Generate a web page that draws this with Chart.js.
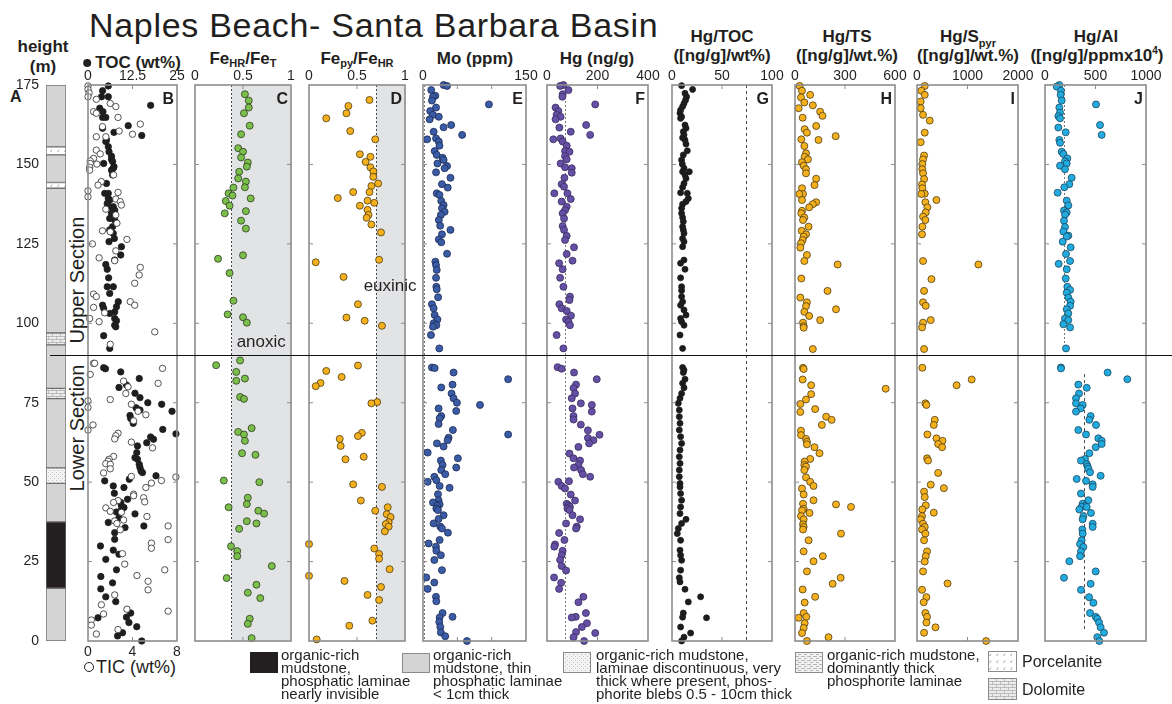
<!DOCTYPE html>
<html>
<head>
<meta charset="utf-8">
<title>Naples Beach- Santa Barbara Basin</title>
<script src="https://cdn.jsdelivr.net/npm/chart.js@4.4.1/dist/chart.umd.min.js"></script>
<style>
  html, body { margin:0; padding:0; background:#fff; }
  #page { position:relative; width:1172px; height:704px; overflow:hidden;
          font-family:"Liberation Sans", Arial, Helvetica, sans-serif; color:#231f20; }
  #page canvas { position:absolute; top:0; }
  .txt { position:absolute; white-space:nowrap; }
  .hd { font-weight:bold; font-size:17px; line-height:17px; transform:translateX(-50%); }
  .sub { font-size:11px; position:relative; top:3px; }
  .lg { font-size:15px; line-height:13px; }
</style>
</head>
<body>
<div id="page">
  <!-- titel en kolomkoppen -->
  <div class="txt" style="left:89px;top:8px;font-size:34px;line-height:34px;letter-spacing:0.7px">Naples Beach- Santa Barbara Basin</div>
  <div class="txt hd" style="left:43px;top:38px">height</div>
  <div class="txt hd" style="left:43px;top:58px">(m)</div>
  <div class="txt" style="left:10px;top:89px;font-weight:bold;font-size:16px;line-height:16px">A</div>
  <div class="txt hd" style="left:132px;top:54px"><span style="display:inline-block;width:8px;height:8px;border-radius:50%;background:#231f20;margin-right:4px;vertical-align:1px"></span>TOC (wt%)</div>
  <div class="txt hd" style="left:243px;top:50px">Fe<span class="sub">HR</span>/Fe<span class="sub">T</span></div>
  <div class="txt hd" style="left:357px;top:50px">Fe<span class="sub">py</span>/Fe<span class="sub">HR</span></div>
  <div class="txt hd" style="left:475px;top:50px">Mo (ppm)</div>
  <div class="txt hd" style="left:597px;top:50px">Hg (ng/g)</div>
  <div class="txt hd" style="left:722px;top:28px">Hg/TOC</div>
  <div class="txt hd" style="left:722px;top:47px">([ng/g]/wt%)</div>
  <div class="txt hd" style="left:847px;top:28px">Hg/TS</div>
  <div class="txt hd" style="left:847px;top:47px">([ng/g]/wt.%)</div>
  <div class="txt hd" style="left:968px;top:28px">Hg/S<span class="sub" style="top:5px">pyr</span></div>
  <div class="txt hd" style="left:968px;top:47px">([ng/g]/wt.%)</div>
  <div class="txt hd" style="left:1096px;top:28px">Hg/Al</div>
  <div class="txt hd" style="left:1097px;top:47px">([ng/g]/ppmx10<span style="font-size:10px;position:relative;top:-7px">4</span>)</div>
  <div class="txt" style="left:77px;top:280px;font-size:20px;line-height:20px;transform:translate(-50%,-50%) rotate(-90deg)">Upper Section</div>
  <div class="txt" style="left:77px;top:428px;font-size:20px;line-height:20px;transform:translate(-50%,-50%) rotate(-90deg)">Lower Section</div>
  <div class="txt" style="left:84px;top:658px;font-size:18px;line-height:18px"><span style="display:inline-block;width:8px;height:8px;border-radius:50%;border:1.2px solid #231f20;margin-right:2px;vertical-align:1px"></span>TIC (wt%)</div>
</div>
<script>
// algemene instellingen
Chart.defaults.font.family = '"Liberation Sans", Arial, Helvetica, sans-serif';
Chart.defaults.color = '#231f20';

var PLOT_TOP = 85, PLOT_BOTTOM = 641, PAGE_H = 704, PAD = 24;
var SECTION_BOUNDARY = 90;   // grens Upper/Lower Section (m)

// lithologie kolom (m)
var unitBase = [0, 16.6, 37.5, 49.6, 54.5, 76.3, 79.5, 93.2, 97, 142.5, 144.3, 153, 155.5];
var unitTop  = [16.6, 37.5, 49.6, 54.5, 76.3, 79.5, 93.2, 97, 142.5, 144.3, 153, 155.5, 175];
var unitKind = ['gray', 'black', 'gray', 'disc', 'gray', 'dolo', 'gray', 'dolo', 'gray', 'porc', 'gray', 'porc', 'gray'];

// meetpunten: [hoogte (m), waarde]
var tocPts = [[174.7,5.7],[173.2,4.1],[171.3,3.8],[171.3,5.7],[168.6,17.6],[167.7,3.3],[166.6,4.2],[164.8,4.1],[164.8,5.0],[162.2,11.3],[161.4,4.1],[160.1,7.3],[159.1,15.1],[157.7,5.2],[157.2,5.0],[155.6,5.7],[154.0,5.9],[152.6,6.6],[151.6,6.6],[150.9,6.9],[150.3,4.4],[149.3,7.3],[148.8,7.1],[148.2,6.6],[146.7,6.9],[144.0,5.2],[140.9,4.7],[140.9,5.7],[139.3,5.7],[138.8,6.1],[137.7,5.4],[136.7,7.1],[136.5,6.6],[135.6,7.5],[134.6,6.6],[133.0,6.1],[132.5,7.5],[130.4,6.9],[129.4,6.1],[128.3,7.1],[126.7,7.4],[125.7,5.9],[124.1,9.4],[121.5,9.2],[119.9,7.5],[118.5,5.0],[117.0,5.4],[114.3,5.8],[111.5,5.4],[111.5,7.1],[109.4,6.1],[106.8,8.5],[105.2,8.0],[105.7,4.1],[104.7,4.4],[103.6,7.5],[103.1,6.1],[101.5,7.5],[100.8,8.0],[99.4,7.5],[98.9,7.8],[96.1,4.4],[92.1,6.1],
  [86.0,4.4],[85.7,4.9],[84.7,9.2],[82.6,14.4],[80.6,10.8],[79.8,8.7],[78.0,13.2],[76.6,14.6],[75.0,16.8],[74.5,20.7],[73.4,13.5],[72.7,14.6],[72.3,23.6],[71.0,11.8],[70.0,12.0],[68.5,12.7],[66.6,21.0],[65.2,24.7],[64.2,17.6],[63.5,18.4],[62.4,16.5],[61.4,13.9],[59.3,13.7],[57.7,13.2],[57.2,13.9],[55.6,14.4],[54.6,14.6],[53.5,14.9],[53.0,15.3],[52.0,19.1],[50.9,11.6],[50.4,4.7],[48.8,7.1],[48.3,10.1],[46.5,7.4],[44.6,11.1],[43.6,9.2],[42.6,9.4],[42.0,10.1],[41.2,9.4],[40.6,8.0],[40.0,13.2],[38.8,8.7],[37.3,5.7],[36.2,15.7],[35.7,10.4],[34.1,7.5],[32.0,7.5],[29.9,3.5],[28.6,7.1],[27.3,8.7],[25.7,5.0],[22.4,8.0],[20.3,3.6],[18.3,6.9],[16.4,3.6],[13.9,5.0],[12.4,7.8],[8.8,12.0],[7.5,10.8],[7.3,2.8],[5.8,11.5],[4.5,13.7],[2.6,9.7],[1.6,8.3],[0,15.1]];

var ticPts = [[174.7,0],[173.6,0],[172.5,0.1],[171.3,0],[170.5,0.75],[169.2,2.0],[168.2,2.5],[166.6,0.5],[166.1,0.75],[164.8,2.7],[162.7,4.7],[161.9,1.3],[160.5,2.8],[159.5,4.0],[158.7,0.75],[158.7,1.6],[154.5,0.75],[153.3,1.1],[151.9,0.5],[151.1,0.2],[150.3,0.2],[150.1,0.8],[149.1,0.15],[148.2,0.15],[146.7,2.3],[144.6,1.2],[143.5,0.9],[141.7,0],[139.8,0],[141.2,2.7],[139.1,2.5],[138.3,2.9],[137.2,3.0],[135.9,1.6],[134.1,2.5],[131.5,2.6],[129.1,1.3],[128.8,2.0],[126.4,3.5],[125.0,0.4],[122.8,2.5],[120.6,1.0],[119.7,2.4],[117.6,4.7],[115.2,4.6],[112.6,4.2],[109.2,0.5],[108.4,0.75],[106.8,3.8],[105.7,4.2],[105.0,0.5],[103.3,1.5],[101.5,0.15],[100.5,1.0],[97.3,6.0],[93.4,2.0],
  [87.4,0.5],[87.4,0.6],[85.8,6.7],[83.9,0.2],[81.8,3.2],[81.1,6.3],[80.0,3.6],[77.9,3.4],[76.0,2.0],[75.6,0],[74.5,3.9],[73.5,0],[72.3,4.5],[71.2,5.2],[69.3,4.1],[68.0,0.45],[66.4,0],[65.4,2.7],[64.6,2.5],[63.6,2.4],[62.6,3.9],[60.8,5.8],[58.1,2.3],[57.2,1.9],[56.6,1.8],[55.8,1.6],[55.6,2.0],[54.2,2.0],[52.9,1.4],[51.8,3.9],[51.6,7.9],[50.5,6.6],[49.7,5.7],[48.3,5.2],[46.2,4.1],[45.7,4.1],[45.1,5.0],[44.2,2.7],[43.8,5.1],[43.6,2.3],[41.9,1.6],[40.8,2.0],[40.5,3.0],[39.2,5.3],[38.1,3.2],[37.8,2.4],[37.0,2.6],[36.2,7.2],[35.0,2.9],[31.9,7.2],[30.8,5.7],[29.2,5.7],[27.5,3.1],[24.2,3.3],[22.4,6.9],[20.6,4.4],[18.8,5.4],[16.1,5.4],[14.5,2.4],[11.4,1.2],[10.0,3.5],[9.4,7.2],[8.5,1.4],[6.6,0.3],[5.0,0.3],[3.6,2.7],[2.2,0.75]];

var feHrPts = [[172.1,0.52],[170.1,0.56],[167.9,0.56],[166.1,0.51],[162.2,0.57],[159.5,0.48],[155.1,0.45],[154.0,0.50],[152.2,0.48],[150.6,0.55],[149.3,0.54],[147.7,0.46],[145.6,0.45],[144.6,0.53],[142.8,0.52],[142.7,0.40],[140.9,0.35],[140.2,0.39],[139.3,0.58],[138.5,0.32],[137.0,0.36],[135.3,0.53],[134.6,0.31],[132.3,0.48],[129.8,0.53],[121.4,0.50],[120.3,0.24],[115.8,0.36],[107.1,0.40],[102.8,0.34],[101.9,0.50],[100.2,0.54],
  [88.3,0.47],[86.8,0.22],[84.7,0.43],[82.6,0.52],[81.9,0.43],[76.8,0.47],[76.2,0.51],[67.0,0.59],[65.8,0.45],[65.0,0.51],[63.0,0.52],[59.1,0.49],[58.6,0.63],[50.5,0.30],[50.0,0.67],[45.1,0.55],[43.1,0.54],[42.1,0.35],[41.0,0.66],[40.1,0.72],[37.7,0.54],[37.0,0.64],[35.3,0.46],[29.8,0.375],[28.3,0.44],[26.7,0.44],[23.6,0.80],[19.8,0.33],[17.7,0.64],[15.2,0.55],[13.5,0.68],[7.0,0.57],[5.4,0.55],[0.9,0.59]];

var fePyPts = [[170.3,0.63],[168.4,0.41],[166.1,0.39],[164.5,0.18],[160.5,0.43],[157.9,0.69],[153.2,0.53],[152.4,0.64],[150.8,0.59],[149.1,0.64],[147.8,0.67],[146.1,0.67],[144.0,0.72],[143.2,0.65],[141.3,0.46],[141.3,0.63],[139.4,0.30],[138.6,0.61],[137.9,0.68],[137.0,0.53],[135.7,0.61],[134.1,0.62],[133.2,0.60],[131.1,0.65],[128.6,0.75],[120.0,0.73],[119.2,0.07],[114.6,0.36],[106.0,0.51],[101.8,0.39],[100.8,0.58],[99.2,0.76],
  [86.7,0.51],[85.0,0.18],[83.1,0.34],[81.2,0.12],[80.2,0.07],[75.2,0.71],[74.8,0.65],[65.5,0.55],[64.5,0.51],[63.6,0.32],[61.4,0.33],[58.0,0.57],[57.2,0.38],[49.3,0.46],[48.5,0.76],[44.2,0.54],[42.1,0.82],[41.0,0.69],[39.9,0.81],[39.0,0.85],[37.4,0.83],[36.8,0.80],[36.0,0.83],[34.5,0.79],[30.5,0],[29.1,0.68],[27.4,0.73],[25.9,0.73],[22.6,0.84],[20.5,0],[18.9,0.37],[17.0,0.75],[14.5,0.61],[12.9,0.73],[6.4,0.66],[4.8,0.42],[0.5,0.08]];

var moPts = [[175,30],[174.7,35],[173.4,12],[171.6,18],[171.3,14.5],[170.1,13],[168.9,96],[167.9,19],[166.8,10.5],[165.6,14.5],[165.0,23],[164.2,9.7],[162.4,41],[161.7,30],[160.3,15.5],[159.3,57],[158.2,19],[157.9,6],[157.2,23],[155.9,24],[154.2,17],[153.0,20],[152.1,28.5],[151.4,30],[150.3,21],[149.5,35],[148.8,31.5],[147.5,19],[145.8,40],[143.8,27.6],[142.7,36],[140.9,20],[140.4,24],[138.5,26.6],[137.2,30],[136.2,27.6],[135.1,31.5],[134.1,26],[132.5,23],[130.7,25],[129.4,40],[128.0,27.6],[126.4,23],[125.5,26.6],[121.9,35],[119.4,18],[118.3,19],[116.8,20],[114.3,19],[111.5,19.4],[110.7,20],[108.2,22],[106.0,13],[104.7,15.5],[102.6,17],[101.2,21],[100.0,15.5],[99.4,19.4],[98.9,14.5],[96.3,11.6],[92.1,23.7],
  [86.1,13],[85.9,17],[84.5,44.5],[82.4,124],[80.7,43],[79.8,26.6],[77.9,41.6],[76.4,44.5],[75.0,49.4],[74.3,83],[73.2,22.7],[72.4,48.4],[70.8,26.6],[70.1,24.2],[68.3,22.7],[66.4,43.5],[65.0,124],[64.0,37.3],[63.2,35.8],[62.2,20.3],[61.2,30],[59.3,6.8],[57.5,50.8],[56.8,26],[55.4,28.5],[54.6,48.4],[53.8,26.6],[52.5,32.4],[51.7,16.5],[50.6,19.4],[50.1,6.8],[48.8,24.2],[48.2,38.7],[46.2,21.8],[44.3,22.7],[43.6,14.5],[43.0,24.2],[42.6,20.3],[41.7,19.4],[41.2,21.8],[39.6,30],[38.4,22.7],[37.0,15.5],[36.0,25.2],[35.4,27.6],[34.1,36.3],[31.8,24.2],[30.7,8.2],[29.7,18.9],[28.4,19.4],[27.0,26],[25.5,16.5],[22.3,27.6],[20.0,4.8],[18.4,16.5],[16.4,6.8],[13.9,18.9],[12.5,19.4],[8.8,28.5],[7.6,43],[7.4,24.2],[6.0,23.7],[4.4,25.2],[2.7,26],[1.5,32.4],[0,64]];

var hgPts = [[175,65],[174.7,52],[173.4,85],[172.1,62],[171.3,61],[168.9,191],[167.9,34],[166.8,45],[165.6,38],[165.0,54],[164.2,34],[162.4,155],[161.6,49],[160.3,94],[159.3,171],[158.2,54],[157.9,25],[157.2,62],[155.9,78],[154.2,71.5],[154.0,89],[152.6,71.5],[151.6,78],[150.3,54],[149.1,71.5],[148.8,98],[147.4,98],[145.8,69],[143.8,58],[143.0,67.5],[140.9,29],[140.9,81],[139.1,94],[138.3,58],[136.7,78],[135.6,71.5],[134.6,62],[133.0,67.5],[130.6,62],[129.4,67.5],[127.5,78],[126.2,71.5],[123.9,107],[121.8,78],[119.7,101],[118.9,48],[117.0,62],[114.3,52],[111.5,65],[108.4,91],[107.3,89],[106.0,49],[104.7,58],[103.9,78],[102.4,95],[101.2,75.5],[100.5,85],[99.4,91],[96.3,38],[92.1,65],
  [86.2,42],[85.7,58],[84.5,107],[82.4,197],[80.7,115],[79.6,105],[77.9,111],[76.4,98],[74.8,134],[74.3,177.5],[73.2,101],[72.2,177.5],[70.8,105],[69.7,105],[68.1,134],[66.3,162],[64.9,208],[63.9,162],[63.2,184],[62.2,167],[61.1,124.5],[59.0,89],[57.5,105],[56.8,131],[55.4,124.5],[54.6,107],[53.8,135],[52.5,142],[51.7,171],[50.3,87],[50.1,45],[48.8,58],[48.0,71.5],[46.1,94],[44.2,111],[43.2,78],[42.7,85],[42.2,91],[41.7,81],[41.2,89],[39.6,101],[38.3,131],[37.0,75.5],[36.0,118],[35.4,115],[34.0,48],[31.8,69],[30.4,32],[29.7,29],[28.4,62],[27.0,58],[25.5,52],[23.6,58],[22.2,75.5],[20.0,28],[18.3,56],[16.4,48],[13.9,144],[12.2,124.5],[8.8,154],[7.6,114],[7.4,98],[5.6,158],[4.4,138],[2.8,115],[2.5,191],[1.2,105],[0,147]];

var hgTocPts = [[174.8,9.6],[173.6,20.6],[172.4,13],[171.3,14.6],[170.3,13.6],[169.2,12],[168.2,10.6],[167.1,8.6],[166.1,8],[165.0,9.6],[164.5,8.6],[162.4,13],[161.4,14],[160.3,11.3],[159.3,12],[158.4,10.6],[157.7,13],[156.4,14],[154.3,15.3],[153.0,11.3],[151.4,9.6],[150.1,10.3],[148.8,12],[147.7,10.6],[147.7,17.3],[146.7,13],[145.6,14],[144.0,12],[142.8,10.6],[141.1,8.6],[140.9,15.3],[139.3,16.3],[138.3,14],[137.5,10.6],[136.2,9.6],[134.6,9.6],[133.3,10.6],[132.0,11.3],[130.4,10.6],[129.4,11.3],[128.3,12],[126.7,10.6],[125.7,12],[124.1,10.6],[119.9,12],[118.9,8.6],[117.0,13],[114.3,8.6],[111.5,9.6],[110.3,9.6],[108.4,9.6],[106.8,10.6],[105.7,8.6],[104.2,12],[102.6,14],[101.5,8.6],[100.5,9.6],[99.4,12],[96.3,8],[92.1,10.6],
  [86.1,10.6],[85.3,12],[84.5,11.3],[82.4,13],[81.1,10.6],[79.7,12],[77.9,9.6],[76.4,8],[74.8,6.3],[72.7,7.3],[70.6,7.3],[68.5,8],[66.4,7.3],[64.3,8.6],[62.2,9.6],[60.1,8],[58.0,7.3],[55.9,8],[53.8,7.3],[51.7,7.3],[49.6,8],[48.5,8],[46.4,8.6],[44.3,9.6],[42.2,8.6],[40.1,8],[38.3,14],[37.0,9.6],[35.4,6.3],[33.8,5.3],[31.7,8.6],[28.6,8],[27.0,8.6],[25.4,9.6],[22.3,8.6],[19.9,7.3],[18.6,8],[16.3,13],[13.9,28.6],[12.3,16.3],[8.8,11.3],[7.5,10.6],[7.3,34.5],[4.4,8.6],[2.5,18.6],[1.2,12],[0,9.6]];

var hgTsPts = [[174.7,28],[173.2,42],[171.9,91],[171.1,36],[169.5,56],[168.6,107],[167.7,22],[166.6,151],[165.3,165],[164.7,46],[162.1,127],[161.1,58],[160.0,71.5],[158.9,244],[157.9,38],[157.7,141],[155.8,56],[153.5,66],[152.4,58],[151.6,77.5],[150.7,42],[149.6,52],[148.5,66],[147.2,66],[145.5,127],[143.5,117],[142.5,42],[140.7,48],[140.7,26],[138.8,42],[138.1,127],[137.5,107],[136.5,85],[135.4,42],[134.6,38],[133.3,56],[132.5,48],[130.4,81.5],[129.1,40],[128.0,66],[127.3,52],[126.2,46],[125.2,36],[123.8,32],[121.5,71.5],[119.6,56],[118.5,256],[114.1,38],[110.2,195],[108.1,32],[106.6,71.5],[105.4,66],[104.4,246],[103.6,56],[102.3,85],[101.0,151],[100.2,48],[99.1,52],[98.6,52],[91.9,107],
  [86.0,48],[85.6,52],[82.3,46],[80.5,97],[79.4,544],[77.7,97],[76.0,66],[74.6,32],[73.0,121],[72.1,32],[70.6,187],[69.6,220],[68.0,161],[66.2,36],[64.8,36],[63.6,66],[62.7,71.5],[61.9,71.5],[61.0,117],[59.1,147],[57.3,91],[56.5,58],[55.4,56],[54.9,66],[53.8,56],[51.5,66],[50.1,91],[48.8,111],[48.0,42],[46.1,52],[44.3,111],[43.2,48],[43.0,246],[42.2,336],[41.6,52],[41.1,42],[40.3,87],[39.3,36],[38.3,52],[36.7,48],[35.9,52],[35.1,48],[33.8,276],[31.7,81.5],[28.2,52],[26.7,167],[25.1,111],[21.9,71.5],[19.9,274],[18.0,226],[16.2,46],[13.9,121],[12.1,58],[8.8,52],[7.6,68],[7.3,22],[5.6,58],[4.1,52],[2.5,42],[1.2,201],[0,71.5]];

var hgSpyrPts = [[174.7,153],[173.2,86],[171.9,153],[169.8,73],[167.7,73],[165.6,120],[163.8,252],[160.0,153],[157.0,73],[152.8,140],[151.6,120],[150.1,106],[148.5,106],[147.2,120],[145.4,140],[143.7,100],[142.5,106],[140.8,153],[140.7,86],[138.8,385],[138.1,166],[136.5,206],[134.9,173],[133.6,120],[132.5,166],[130.4,106],[128.0,100],[119.6,120],[118.5,1216],[113.9,286],[110.2,140],[106.6,120],[105.5,173],[101.0,272],[100.2,120],[98.7,100],[91.9,140],
  [86.0,106],[82.3,1083],[80.5,784],[74.8,166],[74.3,186],[69.6,352],[68.0,332],[65.0,206],[63.8,385],[63.0,505],[62.0,419],[61.0,498],[57.5,199],[56.8,219],[52.9,419],[49.2,272],[48.1,532],[47.0,140],[45.3,153],[42.7,173],[41.4,106],[40.4,332],[39.3,100],[38.3,73],[36.9,120],[35.9,153],[35.1,100],[33.8,166],[31.7,140],[28.2,199],[26.7,173],[25.0,153],[21.9,120],[18.1,605],[16.1,100],[13.8,186],[12.2,133],[8.8,166],[7.6,199],[5.8,186],[4.3,366],[2.6,140],[0,1369]];

var hgAlPts = [[175,142],[174.5,116],[173.2,158],[171.9,155],[170.1,165],[168.9,505],[167.9,142],[166.3,149],[165.2,132],[164.5,149],[162.4,545],[161.6,132],[160.1,205],[159.3,561],[157.7,142],[156.8,149],[154.0,165],[153.3,182],[151.9,221],[151.0,198],[150.3,215],[149.6,149],[148.5,198],[145.8,264],[143.8,241],[142.8,191],[141.1,125],[138.6,215],[137.1,231],[135.5,188],[134.9,215],[134.2,198],[132.3,188],[130.3,198],[128.9,182],[127.6,231],[127.3,215],[125.7,175],[123.9,254],[121.8,208],[119.6,248],[118.7,135],[117.0,215],[114.1,205],[111.5,221],[110.5,248],[109.6,215],[108.1,231],[106.8,254],[105.5,248],[104.4,215],[103.1,231],[101.5,198],[101.0,231],[99.7,182],[98.7,248],[92.1,208],
  [86.1,158],[85.8,158],[84.5,620],[82.4,815],[80.7,330],[79.7,413],[77.9,337],[76.4,307],[74.8,307],[74.3,373],[73.2,353],[72.2,307],[70.8,452],[69.6,439],[68.0,505],[66.4,330],[65.0,406],[63.8,528],[63.0,561],[62.0,561],[61.0,502],[59.1,439],[57.3,396],[56.8,356],[55.7,413],[54.9,422],[54.2,429],[53.1,446],[52.0,551],[51.0,314],[50.4,406],[49.3,472],[48.5,472],[46.4,356],[44.3,429],[43.2,373],[42.5,396],[42.2,363],[42.2,413],[41.4,340],[40.3,455],[39.3,380],[38.3,373],[36.9,472],[35.9,472],[35.1,370],[33.8,373],[31.7,363],[30.5,347],[29.6,380],[28.2,356],[26.7,347],[25.1,241],[21.9,502],[19.9,188],[18.0,452],[16.1,356],[13.8,436],[12.0,479],[8.8,446],[7.6,502],[7.0,518],[5.8,535],[4.3,551],[2.6,584],[1.2,518],[0,538]];

var page = document.getElementById('page');

function addCanvas(left, width) {
  var c = document.createElement('canvas');
  c.width = width; c.height = PAGE_H;
  c.style.left = left + 'px';
  c.style.width = width + 'px'; c.style.height = PAGE_H + 'px';
  page.appendChild(c);
  return c;
}

// arceringen voor de lithologie
function fillFor(ctx, kind) {
  if (kind === 'black') return '#231f20';
  if (kind === 'gray') return '#d4d4d4';
  var t = document.createElement('canvas'), g;
  if (kind === 'porc') {
    t.width = 7; t.height = 7; g = t.getContext('2d');
    g.fillStyle = '#ffffff'; g.fillRect(0, 0, 7, 7);
    g.strokeStyle = '#8f8f8f'; g.lineWidth = 0.8;
    g.beginPath(); g.moveTo(1.5, 5); g.lineTo(3, 2.5); g.stroke();
  } else if (kind === 'dolo') {
    t.width = 8; t.height = 6; g = t.getContext('2d');
    g.fillStyle = '#ececec'; g.fillRect(0, 0, 8, 6);
    g.strokeStyle = '#a8a8a8'; g.lineWidth = 0.7;
    g.beginPath();
    g.moveTo(0, 0.5); g.lineTo(8, 0.5); g.moveTo(0, 3.5); g.lineTo(8, 3.5);
    g.moveTo(0.5, 0.5); g.lineTo(0.5, 3.5); g.moveTo(4.5, 3.5); g.lineTo(4.5, 6);
    g.stroke();
  } else if (kind === 'disc') {
    t.width = 4; t.height = 4; g = t.getContext('2d');
    g.fillStyle = '#f3f3f3'; g.fillRect(0, 0, 4, 4);
    g.fillStyle = '#c2c2c2'; g.fillRect(0, 0, 1, 1); g.fillRect(2, 2, 1, 1);
  } else {
    t.width = 6; t.height = 4; g = t.getContext('2d');
    g.fillStyle = '#f2f2f2'; g.fillRect(0, 0, 6, 4);
    g.strokeStyle = '#9c9c9c'; g.lineWidth = 0.7;
    g.beginPath(); g.moveTo(0, 0.5); g.lineTo(4, 0.5); g.moveTo(3, 2.5); g.lineTo(6, 2.5); g.stroke();
  }
  return ctx.createPattern(t, 'repeat');
}

function sectionLine(fromX) {
  return {
    id: 'sectionLine',
    afterDatasetsDraw: function(chart) {
      var g = chart.ctx, y = Math.round(chart.scales.y.getPixelForValue(SECTION_BOUNDARY)) + 0.5;
      g.save();
      g.strokeStyle = '#111'; g.lineWidth = 1.2;
      g.beginPath(); g.moveTo(fromX, y); g.lineTo(chart.width, y); g.stroke();
      g.restore();
    }
  };
}

// kolom A
var colCanvas = addCanvas(0, 88);
var colCtx = colCanvas.getContext('2d');
new Chart(colCtx, {
  type: 'bar',
  data: {
    labels: ['column'],
    datasets: unitBase.map(function(b, i) {
      return {
        data: [[b, unitTop[i]]],
        backgroundColor: fillFor(colCtx, unitKind[i]),
        borderColor: '#707070', borderWidth: 1, borderSkipped: false,
        grouped: false, barPercentage: 1, categoryPercentage: 1
      };
    })
  },
  options: {
    responsive: false, animation: false, events: [], devicePixelRatio: 1,
    layout: { padding: { left: 0, right: 22, top: PLOT_TOP, bottom: PAGE_H - PLOT_BOTTOM } },
    scales: {
      x: { display: false },
      y: { min: 0, max: 175, ticks: { stepSize: 25, padding: 7, font: { size: 14 } },
           grid: { display: false, drawTicks: false }, border: { display: false },
           afterFit: function(s) { s.width = 46; } }
    },
    plugins: { legend: { display: false }, tooltip: { enabled: false } }
  },
  plugins: [sectionLine(50)]
});

// panelen B..J
function pointSet(pts, fill, edge, r, axis) {
  return {
    data: pts.map(function(p) { return { x: p[1], y: p[0] }; }),
    xAxisID: axis || 'x',
    pointRadius: r, pointBackgroundColor: fill, pointBorderColor: edge,
    pointBorderWidth: 0.8, clip: false
  };
}

var panels = [
  { letter: 'B', left: 88, right: 177, min: 0, max: 25, step: 12.5,
    bottom: { min: 0, max: 8, step: 4 },
    datasets: [pointSet(ticPts, '#ffffff', '#2a2a2a', 3.2, 'x2'), pointSet(tocPts, '#1e1e1e', '#1e1e1e', 3.2)] },
  { letter: 'C', left: 195, right: 291, min: 0, max: 1, step: 0.5, shadeFrom: 0.38,
    refs: [{ v: 0.38, from: 0, to: 175 }], note: { text: 'anoxic', x: 0.69, y: 94 },
    datasets: [pointSet(feHrPts, '#79bf4a', '#2f3b25', 3.5)] },
  { letter: 'D', left: 309, right: 405, min: 0, max: 1, step: 0.5, shadeFrom: 0.7,
    refs: [{ v: 0.7, from: 0, to: 175 }], note: { text: 'euxinic', x: 0.845, y: 111.7 },
    datasets: [pointSet(fePyPts, '#f5b11d', '#4d3b12', 3.5)] },
  { letter: 'E', left: 423, right: 526, min: 0, max: 150, step: 50, labels: [0, 150],
    refs: [{ v: 2, from: 0, to: 175, color: '#777' }],
    datasets: [pointSet(moPts, '#3a5ba6', '#1d2b52', 3.5)] },
  { letter: 'F', left: 547, right: 648, min: 0, max: 400, step: 200,
    refs: [{ v: 70, from: 0, to: 175, color: '#777' }],
    datasets: [pointSet(hgPts, '#6650a5', '#372c60', 3.5)] },
  { letter: 'G', left: 672, right: 772, min: 0, max: 100, step: 50,
    refs: [{ v: 74, from: 0, to: 175, dash: [3, 3] }],
    datasets: [pointSet(hgTocPts, '#1c1c1c', '#1c1c1c', 3.0)] },
  { letter: 'H', left: 795, right: 895, min: 0, max: 600, step: 300,
    datasets: [pointSet(hgTsPts, '#f5b11d', '#4d3b12', 3.5)] },
  { letter: 'I', left: 917, right: 1018, min: 0, max: 2000, step: 1000,
    datasets: [pointSet(hgSpyrPts, '#f5b11d', '#4d3b12', 3.5)] },
  { letter: 'J', left: 1045, right: 1146, min: 0, max: 1000, step: 500, padRight: 26,
    refs: [{ v: 185, from: 92, to: 175, color: '#777' }, { v: 389, from: 3, to: 84, dash: [3, 3] }],
    datasets: [pointSet(hgAlPts, '#22abdf', '#1b4760', 3.5)] }
];

function deco(p) {
  return {
    id: 'deco' + p.letter,
    beforeDatasetsDraw: function(chart) {
      var a = chart.chartArea, xs = chart.scales.x, ys = chart.scales.y, g = chart.ctx;
      g.save();
      if (p.shadeFrom != null) {
        var sx = xs.getPixelForValue(p.shadeFrom);
        g.fillStyle = '#e2e3e5';
        g.fillRect(sx, a.top, a.right - sx, a.bottom - a.top);
      }
      (p.refs || []).forEach(function(r) {
        var x = Math.round(xs.getPixelForValue(r.v)) + 0.5;
        g.beginPath();
        g.setLineDash(r.dash || [2, 2]);
        g.strokeStyle = r.color || '#4a4a4a'; g.lineWidth = 1;
        g.moveTo(x, ys.getPixelForValue(r.to)); g.lineTo(x, ys.getPixelForValue(r.from));
        g.stroke();
      });
      g.restore();
    },
    afterDatasetsDraw: function(chart) {
      var a = chart.chartArea, xs = chart.scales.x, ys = chart.scales.y, g = chart.ctx;
      var xb = chart.scales.x2 || xs;
      g.save();
      g.strokeStyle = '#8d8d8d'; g.lineWidth = 1.6;
      g.strokeRect(a.left, a.top, a.right - a.left, a.bottom - a.top);
      // korte tickjes naar binnen
      g.lineWidth = 1; g.strokeStyle = '#8d8d8d';
      g.beginPath();
      for (var v = 25; v < 175; v += 25) {
        var y = ys.getPixelForValue(v);
        g.moveTo(a.left, y); g.lineTo(a.left + 4, y);
        g.moveTo(a.right, y); g.lineTo(a.right - 4, y);
      }
      xs.ticks.forEach(function(t) {
        if (t.value <= xs.min || t.value >= xs.max) return;
        var x = xs.getPixelForValue(t.value);
        g.moveTo(x, a.top); g.lineTo(x, a.top + 4);
      });
      xb.ticks.forEach(function(t) {
        if (t.value <= xb.min || t.value >= xb.max) return;
        var x = xb.getPixelForValue(t.value);
        g.moveTo(x, a.bottom); g.lineTo(x, a.bottom - 4);
      });
      g.stroke();
      // paneelletter
      g.fillStyle = '#231f20';
      g.font = 'bold 16px "Liberation Sans", Arial, sans-serif';
      g.textAlign = 'right'; g.textBaseline = 'alphabetic';
      g.fillText(p.letter, a.right - 3, a.top + 19);
      if (p.note) {
        g.font = '17px "Liberation Sans", Arial, sans-serif';
        g.textAlign = 'center'; g.textBaseline = 'middle';
        g.fillText(p.note.text, xs.getPixelForValue(p.note.x), ys.getPixelForValue(p.note.y));
      }
      // grens Upper/Lower Section
      var ly = Math.round(ys.getPixelForValue(SECTION_BOUNDARY)) + 0.5;
      g.strokeStyle = '#111'; g.lineWidth = 1.2;
      g.beginPath(); g.moveTo(0, ly); g.lineTo(chart.width, ly); g.stroke();
      g.restore();
    }
  };
}

function makePanel(p) {
  var padR = p.padRight || PAD;
  var cv = addCanvas(p.left - PAD, p.right - p.left + PAD + padR);
  var labels = p.labels;
  var scales = {
    x: {
      type: 'linear', position: 'top', min: p.min, max: p.max,
      ticks: { stepSize: p.step, padding: 0, maxRotation: 0, autoSkip: false, font: { size: 14 },
               callback: function(v) { return (!labels || labels.indexOf(v) >= 0) ? String(v) : ''; } },
      grid: { display: false, drawTicks: false }, border: { display: false },
      afterFit: function(s) { s.height = PLOT_TOP; }
    },
    y: { type: 'linear', min: 0, max: 175, display: false }
  };
  var bottomPad = PAGE_H - PLOT_BOTTOM;
  if (p.bottom) {
    scales.x2 = {
      type: 'linear', position: 'bottom', min: p.bottom.min, max: p.bottom.max,
      ticks: { stepSize: p.bottom.step, padding: 3, maxRotation: 0, autoSkip: false, font: { size: 14 },
               callback: function(v) { return String(v); } },
      grid: { display: false, drawTicks: false }, border: { display: false },
      afterFit: function(s) { s.height = PAGE_H - PLOT_BOTTOM; }
    };
    bottomPad = 0;
  }
  new Chart(cv.getContext('2d'), {
    type: 'scatter',
    data: { datasets: p.datasets },
    options: {
      responsive: false, animation: false, events: [], devicePixelRatio: 1,
      layout: { padding: { left: PAD, right: padR, top: 0, bottom: bottomPad } },
      scales: scales,
      plugins: { legend: { display: false }, tooltip: { enabled: false } }
    },
    plugins: [deco(p)]
  });
}

panels.forEach(makePanel);

// legenda onderaan
var legendItems = [
  { kind: 'black', x: 250, y: 652, w: 28, h: 21, tx: 281, lines: ['organic-rich', 'mudstone,', 'phosphatic laminae', 'nearly invisible'] },
  { kind: 'gray', x: 402, y: 653, w: 28, h: 20, tx: 433, lines: ['organic-rich', 'mudstone, thin', 'phosphatic laminae', '< 1cm thick'] },
  { kind: 'disc', x: 563, y: 652, w: 28, h: 21, tx: 596, lines: ['organic-rich mudstone,', 'laminae discontinuous, very', 'thick where present, phos-', 'phorite blebs 0.5 - 10cm thick'] },
  { kind: 'phos', x: 795, y: 652, w: 28, h: 21, tx: 827, lines: ['organic-rich mudstone,', 'dominantly thick', 'phosphorite laminae'] },
  { kind: 'porc', x: 988, y: 651, w: 29, h: 21, tx: 1022, lines: ['Porcelanite'], base: 667 },
  { kind: 'dolo', x: 988, y: 678, w: 29, h: 22, tx: 1022, lines: ['Dolomite'], base: 695 }
];

legendItems.forEach(function(it) {
  var sw = document.createElement('canvas');
  sw.width = it.w; sw.height = it.h;
  sw.style.left = it.x + 'px'; sw.style.top = it.y + 'px';
  sw.style.width = it.w + 'px'; sw.style.height = it.h + 'px';
  page.appendChild(sw);
  var g = sw.getContext('2d');
  g.fillStyle = fillFor(g, it.kind);
  g.fillRect(0, 0, it.w, it.h);
  if (it.kind !== 'black') {
    g.strokeStyle = '#8a8a8a'; g.lineWidth = 1;
    g.strokeRect(0.5, 0.5, it.w - 1, it.h - 1);
  }
  var d = document.createElement('div');
  d.className = 'txt lg';
  d.style.left = it.tx + 'px';
  if (it.base) {
    d.style.fontSize = '16px'; d.style.lineHeight = '16px';
    d.style.top = (it.base - 13.5) + 'px';
  } else {
    d.style.top = '648px';
  }
  d.innerHTML = it.lines.map(function(s) { return s.replace(/</g, '&lt;'); }).join('<br>');
  page.appendChild(d);
});
</script>
</body>
</html>
